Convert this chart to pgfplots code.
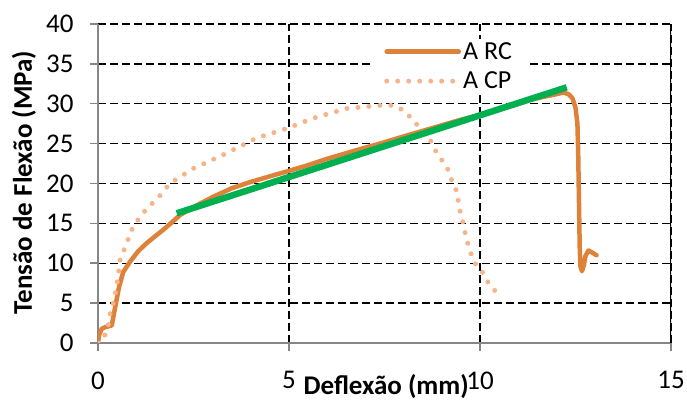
\documentclass[border=0pt]{standalone}
\usepackage{pgfplots}
\pgfplotsset{compat=1.18}
\usepackage{fontspec}
\setmainfont{Carlito}
\definecolor{rc}{HTML}{DD8238}
\definecolor{cp}{HTML}{F6B48A}
\definecolor{fit}{HTML}{00B050}
\definecolor{axisgray}{HTML}{868686}

\begin{document}
\begin{tikzpicture}
\begin{axis}[
  scale only axis, width=573pt, height=319pt,
  xmin=0, xmax=15, ymin=0, ymax=40,
  xtick={0,5,10,15}, ytick={0,5,...,40},
  axis x line*=bottom, axis y line*=left,
  axis line style={axisgray, line width=1.5pt, -},
  tick style={axisgray, line width=1.5pt},
  tick align=outside, major tick length=8pt,
  grid=major,
  grid style={black, line width=1.3pt, dash pattern=on 8pt off 4pt},
  tick label style={font=\fontsize{27}{30}\selectfont},
  /pgf/number format/assume math mode=true,
  xticklabel style={yshift=-17pt},
  yticklabel style={xshift=-13pt},
  label style={font=\fontsize{27}{30}\selectfont\bfseries},
  xlabel={Deflexão (mm)},
  xlabel style={at={(rel axis cs:0.503,0)}, anchor=center, yshift=-44pt},
  ylabel={Tensão de Flexão (MPa)},
  ylabel style={at={(rel axis cs:0,0.503)}, anchor=center, yshift=74pt},
  legend style={at={(rel axis cs:0.4747,0.955)}, anchor=north west,
    draw=none, fill=white, font=\fontsize{26}{30}\selectfont,
    inner xsep=14pt, inner ysep=2pt, row sep=7pt},
  legend cell align={left},
  legend image code/.code={\draw[#1] (0pt,0pt) -- (72pt,0pt);},
]

% A RC
\addplot[rc, line width=4.5pt, line join=round, line cap=round] coordinates {
 (0.0,0.0) (0.03,1.0) (0.1,1.8) (0.2,2.0) (0.36,2.2) (0.45,4.5) (0.55,7.0)
 (0.66,8.9) (0.84,10.2) (1.05,11.5) (1.27,12.5) (1.5,13.4) (1.71,14.2)
 (1.95,15.2) (2.15,16.05) (2.6,17.3) (3.0,18.3) (3.5,19.4) (4.0,20.2)
 (4.5,20.9) (4.94,21.5) (5.5,22.3) (6.0,23.1) (6.5,23.8) (7.0,24.5)
 (7.38,25.0) (8.0,25.9) (8.5,26.6) (9.0,27.3) (9.5,28.0) (10.0,28.6)
 (10.5,29.3) (11.0,30.0) (11.31,30.5) (11.7,30.9) (12.0,31.2) (12.18,31.4)
 (12.32,31.2) (12.42,30.7) (12.5,29.5) (12.55,27.5) (12.57,24.0)
 (12.59,18.0) (12.61,12.0) (12.63,9.6) (12.67,9.0) (12.72,9.8)
 (12.76,10.9) (12.84,11.6) (12.95,11.3) (13.05,11.0)};
\addlegendentry{A RC}

% A CP
\addplot[cp, line width=5pt, line cap=round, dash pattern=on 0pt off 11pt] coordinates {
 (0.0,0.0) (0.05,0.05) (0.18,1.0) (0.27,2.25) (0.31,3.5) (0.36,4.8) (0.4,5.0)
 (0.49,7.1) (0.58,10.4) (0.75,12.5) (0.92,14.6) (1.1,15.8) (1.32,17.1)
 (1.54,18.0) (1.88,20.0) (2.5,21.9) (3.28,23.6) (4.15,25.7) (4.94,26.9)
 (5.64,28.2) (6.51,29.4) (7.38,29.8) (7.73,29.8) (7.99,29.2) (8.25,27.96)
 (8.43,26.9) (8.69,25.5) (8.87,23.8) (9.13,22.1) (9.26,20.4) (9.39,19.0)
 (9.43,17.9) (9.48,16.5) (9.56,15.0) (9.61,13.8) (9.69,12.3) (9.78,11.0)
 (9.87,10.0) (10.04,9.07) (10.17,7.9) (10.26,7.27) (10.39,6.56) (10.48,6.0)};
\addlegendentry{A CP}

% linear fit
\addplot[fit, line width=6.5pt, forget plot] coordinates {(2.06,16.26) (12.27,32.06)};

\draw[black, line width=1.3pt] (rel axis cs:1,0) -- (rel axis cs:1,1);
\coordinate (bl) at (rel axis cs:0,0);
\coordinate (tr) at (rel axis cs:1,1);
\end{axis}
\pgfresetboundingbox
\path ([shift={(-98pt,-60pt)}]bl) rectangle ([shift={(16pt,24pt)}]tr);
\end{tikzpicture}
\end{document}
